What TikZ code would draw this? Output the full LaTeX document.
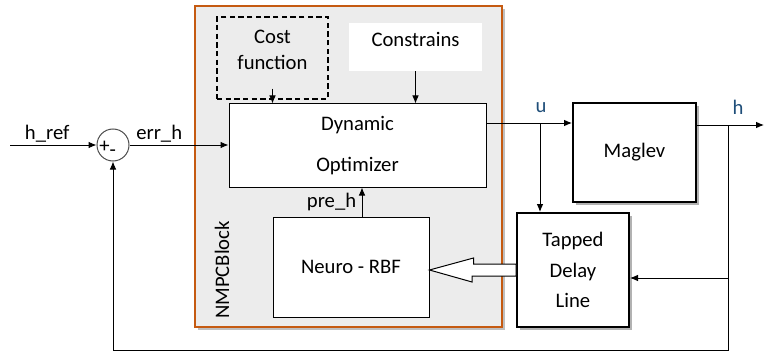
\documentclass[tikz,border=0pt]{standalone}
\usepackage{fontspec}
\setmainfont{Carlito}
\usetikzlibrary{arrows.meta,shadows,calc}
\definecolor{nmpcorange}{RGB}{197,90,17}
\definecolor{nmpcgray}{RGB}{236,236,236}
\definecolor{sigblue}{RGB}{31,78,121}
\begin{document}
\begin{tikzpicture}[
 x=0.75pt,y=-0.75pt,
 font=\fontsize{15.5}{18}\selectfont,
 blk/.style={draw,fill=white,line width=.75pt,inner sep=0pt,align=center},
 blk1/.style={blk,line width=1.5pt,
   drop shadow={shadow xshift=2.2pt,shadow yshift=-2.2pt,fill=black!30,opacity=1}},
 sig/.style={-{Latex[length=6pt,width=5pt]},line width=.75pt},
 lbl/.style={inner sep=2pt},
 ]
 \useasboundingbox (0,0) rectangle (764,353);
 % controller block
 \node[draw=nmpcorange,fill=nmpcgray,line width=1.5pt,minimum width=230.25pt,minimum height=240.75pt,
   drop shadow={shadow xshift=2.5pt,shadow yshift=-2.5pt,fill=black!25,opacity=1}]
   (nmpc) at (348.5,166.5) {};
 \node[rotate=90] (nmpcname) at ($(nmpc.south west)+(28,-58)$) {NMPCBlock};

 \node[blk,fill=none,line width=1pt,dash pattern=on 4pt off 2.5pt,minimum width=83.25pt,minimum height=61.5pt]
   (cost) at (272.5,58) {Cost\\[1.5pt]function\\[-6pt]\mbox{}};
 \node[blk,draw=none,minimum width=99.75pt,minimum height=36pt] (cons) at (415.5,47) {Constrains\\[-7pt]\mbox{}};
 \node[blk,minimum width=192.75pt,minimum height=62.25pt] (opt) at (357.5,145.5) {Dynamic\\[13pt]Optimizer};
 \node[blk,minimum width=117pt,minimum height=75pt] (neuro) at (351,267) {Neuro - RBF};

 % plant and delay line
 \node[blk1,minimum width=92.25pt,minimum height=74.25pt] (mag) at (634.5,152.5) {Maglev};
 \node[blk1,minimum width=84pt,minimum height=85.5pt] (tdl) at (573,270) {Tapped\\[5pt]Delay\\[5pt]Line};

 % summing junction
 \node[circle,draw=black!70,line width=.75pt,minimum size=24pt,inner sep=0pt,
   label={[inner sep=0pt,xshift=-4pt,yshift=-3pt]center:+\raisebox{-3pt}{-}}] (sum) at (113,145) {};

 \coordinate (href) at (10,145);
 \coordinate (ub) at (540,123);
 \coordinate (hb) at (728,125);
 \coordinate (hend) at (764,125);
 \coordinate (ph) at ($(neuro.north)+(11,0)$);

 \draw[sig] (href) -- (sum) node[lbl,above,pos=.43] {h\_ref};
 \draw[sig] (sum.east) -- (sum.east -| opt.west) node[lbl,above,pos=.3] {err\_h};
 \draw[sig] ($(cost.south)+(0,-11)$) -- (cost.south |- opt.north);
 \draw[sig] (cons.south) -- (cons.south |- opt.north);
 \draw[sig] (ph) -- (ph |- opt.south) node[lbl,midway,left,xshift=-2pt] {pre\_h};

 \draw[sig] (ub -| opt.east) -- (ub -| mag.west);
 \node[lbl,above,text=sigblue] (ulbl) at ($(ub)+(1,-7)$) {u};
 \draw[sig] (ub) -- (ub |- tdl.north);
 \draw[sig] (hb -| mag.east) -- (hend);
 \node[lbl,above,text=sigblue] (hlbl) at ($(hb)+(10,-8)$) {h};
 \draw[sig] (hb) |- ($(tdl.east)+(0,8)$);
 \draw[sig] (hb) -- ++(0,225) -| (sum.south);

 % hollow arrow into the network
 \draw[fill=white,line width=.75pt] (tdl.west -| neuro.east) -- ++(44,-12) -- ++(0,6)
   -- ($(tdl.west)+(0,-6)$) -- ($(tdl.west)+(0,6)$) -- ++(-44,0) -- ++(0,6) -- cycle;
\end{tikzpicture}
\end{document}
